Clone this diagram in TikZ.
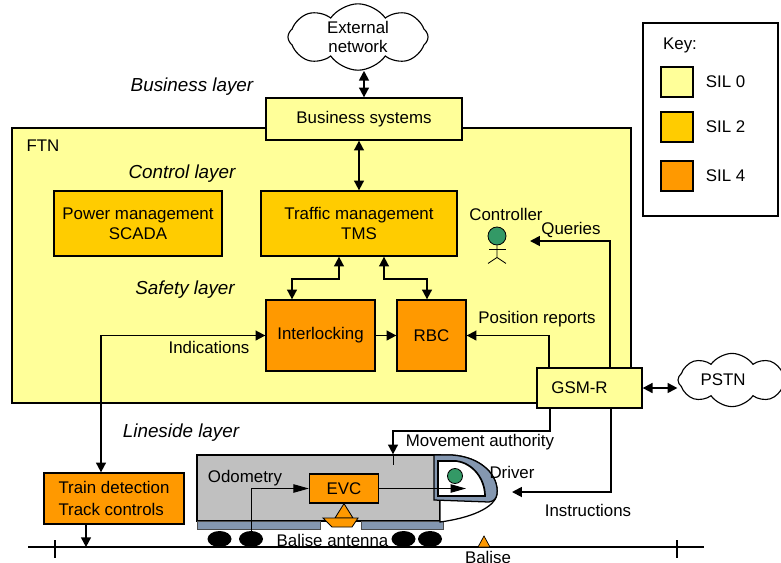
\documentclass[tikz,border=0pt]{standalone}
\usepackage{fontspec}
\setmainfont{Liberation Sans}
\usepackage{xcolor}
\usetikzlibrary{positioning, shapes.geometric, shapes.symbols, arrows.meta, calc}

\definecolor{silzero}{HTML}{FFFF99}
\definecolor{siltwo}{HTML}{FFCC00}
\definecolor{silfour}{HTML}{FF9900}
\definecolor{bodygrey}{HTML}{C0C0C0}
\definecolor{cabblue}{HTML}{8497B0}
\definecolor{headgreen}{HTML}{339966}

\tikzset{
  box/.style={draw, line width=0.9pt, align=center, inner sep=0pt},
  arr/.style={->, line width=1.3pt},
  dbl/.style={<->, line width=1.3pt},
  thinarr/.style={-{Triangle[length=11pt,width=6pt]}, line width=0.7pt},
  layer/.style={font=\fontsize{13.4}{15}\selectfont\itshape},
  netcloud/.style={cloud, draw, fill=white, cloud puffs=8, cloud puff arc=110, aspect=2.4, align=center, inner sep=0.5pt, line width=0.8pt},
  wheel/.style={ellipse, fill=black, minimum width=0.6cm, minimum height=0.4cm, inner sep=0pt},
  swatch/.style={draw, line width=0.9pt, minimum width=0.8cm, minimum height=0.75cm},
}

\begin{document}
\begin{tikzpicture}[x=0.025cm, y=-0.025cm, font=\fontsize{12}{14}\selectfont, >={Triangle[length=7pt,width=7pt]}]
        \useasboundingbox (0,0) rectangle (781,562);

        \node[box, fill=silzero, minimum width=15.475cm, minimum height=6.875cm] (ftn) at (321.5,265.5) {};
        \node (ftnt) at (43,146) {FTN};

        \node[layer] (blay) at (192,87) {Business layer};
        \node[layer] (clay) at (182,174) {Control layer};
        \node[layer] (slay) at (185,290) {Safety layer};
        \node[layer] (llay) at (181,433) {Lineside layer};

        \node[netcloud, minimum width=3.5cm, minimum height=1.2cm] (ext) at (358,37) {External\\network};
        \node[box, fill=silzero, minimum width=4.9cm, minimum height=1.05cm] (bsys) at (364,119) {Business systems};

        \node[box, fill=siltwo, minimum width=4.2cm, minimum height=1.625cm] (scada) at (138,223.5) {Power management\\SCADA};
        \node[box, fill=siltwo, minimum width=4.9cm, minimum height=1.625cm] (tms) at (359,223.5) {Traffic management\\TMS};
        \node[box, fill=silfour, minimum width=2.725cm, minimum height=1.775cm] (ilk) at (320.5,335.5) {Interlocking};
        \node[box, fill=silfour, minimum width=1.725cm, minimum height=1.775cm] (rbc) at (431.5,335.5) {RBC};

        \node[box, fill=silzero, minimum width=2.625cm, minimum height=1cm] (gsmr) at (589.5,388) {GSM-R\hspace*{0.5cm}};
        \node[netcloud, minimum width=2.7cm, minimum height=1.3cm] (pstn) at (732,380) {PSTN\hspace*{0.45cm}};

        \node[draw, line width=0.9pt, fill=white, minimum width=3.375cm, minimum height=4.825cm] (key) at (710.5,119.5) {};
        \node (keyt) at (680,45) {Key:};
        \foreach \lv/\col/\yy in {0/silzero/82, 2/siltwo/127, 4/silfour/176} {
          \node[swatch, fill=\col] (sw\lv) at (677,\yy) {};
          \node[right=0.18cm of sw\lv] (swt\lv) {SIL \lv};
        }

        \node (ctrlt) at (506,214) {Controller};
        \node[circle, draw, fill=headgreen, minimum size=0.45cm, inner sep=0pt, line width=0.6pt] (ctrl) at (497,236) {};
        \draw[line width=0.6pt] (ctrl.south) -- ++(0,12) coordinate (hip) -- ++(-9,6) (hip) -- ++(9,6);
        \draw[line width=0.6pt] ($(ctrl.south)+(-8,4)$) -- ++(17,0);

        \node[box, fill=silfour, minimum width=3.5cm, minimum height=1.275cm, align=left, font=\fontsize{12}{15.5}\selectfont] (tdet) at (114,498.5) {Train detection\\Track controls};

        \coordinate (tl) at (28,547);
        \coordinate (tr) at (704,547);
        \draw[line width=0.9pt] (tl) -- (tr);
        \foreach \x in {55,677}
          \draw[line width=0.9pt] (\x,540) -- (\x,558);
        \draw[fill=silfour, line width=0.5pt] (478,547) -- (484,536) -- (490,547) -- cycle;
        \node (balt) at (488,557) {Balise};

        \node[draw, line width=0.9pt, fill=bodygrey, minimum width=6.075cm, minimum height=1.65cm] (train) at (318.5,488) {};
        \filldraw[fill=cabblue, draw=black!70, line width=0.4pt] (197,521) rectangle (320,529) (361,521) rectangle (443,529);
        \foreach \x [count=\i] in {219.5,251,403.5,430}
          \node[wheel] (w\i) at (\x,539) {};
        \draw[fill=white, line width=0.9pt] (434,455) -- (452,455) .. controls (482,457) and (499,476) .. (497,494) .. controls (495,508) and (470,518) .. (440,522) -- (440,455);
        \draw[fill=cabblue, line width=0.9pt] (434,455) -- (452,455) .. controls (482,457) and (499,476) .. (497,494) .. controls (496,499) and (494,501) .. (489,502) -- (434,500) -- cycle;
        \draw[fill=white, line width=1.2pt] (438,461) -- (456,461) .. controls (473,463) and (485,479) .. (485,496) -- (438,496) -- cycle;
        \node[circle, fill=headgreen, draw, line width=0.6pt, minimum size=0.375cm, inner sep=0pt] (drv) at (455,476) {};

        \node[box, fill=silfour, minimum width=1.725cm, minimum height=0.725cm] (evc) at (344,488.5) {EVC};
        \draw[fill=silfour, line width=0.6pt] (335,518) -- (evc.south) -- (353,518) -- cycle;
        \draw[fill=silfour, line width=0.6pt] (323,518) -- (358,518) -- (352,527) -- (332,527) -- cycle;
        \node (bant) at (332.5,540) {Balise antenna};
        \node (odot) at (245,478) {Odometry};
        \draw[thinarr] (w2.center) |- (evc.west);
        \coordinate (win) at (466,488.5);
        \draw[thinarr] (evc.east) -- (win);

        \draw[dbl] (bsys.north) -- (bsys.north |- ext.south);
        \draw[dbl] (tms.north) -- (tms.north |- bsys.south);
        \draw[dbl] ($(tms.south)+(-20,0)$) -- ++(0,22) -| ($(ilk.north)+(-28.5,0)$);
        \draw[dbl] ($(tms.south)+(25,0)$) -- ++(0,22) -| ($(rbc.north)+(-4.5,0)$);
        \draw[arr] (ilk) -- (rbc);

        \node (indt) at (209,347) {Indications};
        \draw[dbl] (ilk.west) -| ($(tdet.north)+(-13,0)$);
        \draw[arr] ($(tdet.south)+(-28,0)$) -- ++(0,22.5);

        \node (posrt) at (537,319) {Position reports};
        \draw[arr] ($(gsmr.north)+(-40.5,0)$) |- (rbc.east);
        \node (qryt) at (571,230) {Queries};
        \coordinate (qry) at (530,241);
        \draw[arr] ($(gsmr.north)+(20.5,0)$) |- (qry);
        \draw[dbl] (gsmr.east) -- (gsmr.east -| pstn.west);

        \node (movt) at (480,442) {Movement authority};
        \draw[arr] ($(gsmr.south)+(-39.5,0)$) -- ++(0,22) -| ($(train.north)+(74.5,0)$);
        \draw[line width=0.7pt] ($(train.north)+(74.5,0)$) -- ++(0,11);
        \node (drvt) at (512,472) {Driver};
        \node (inst) at (588,510) {Instructions};
        \coordinate (cab) at (512,492);
        \draw[arr] ($(gsmr.south)+(21.5,0)$) |- (cab);
      \end{tikzpicture}
\end{document}
